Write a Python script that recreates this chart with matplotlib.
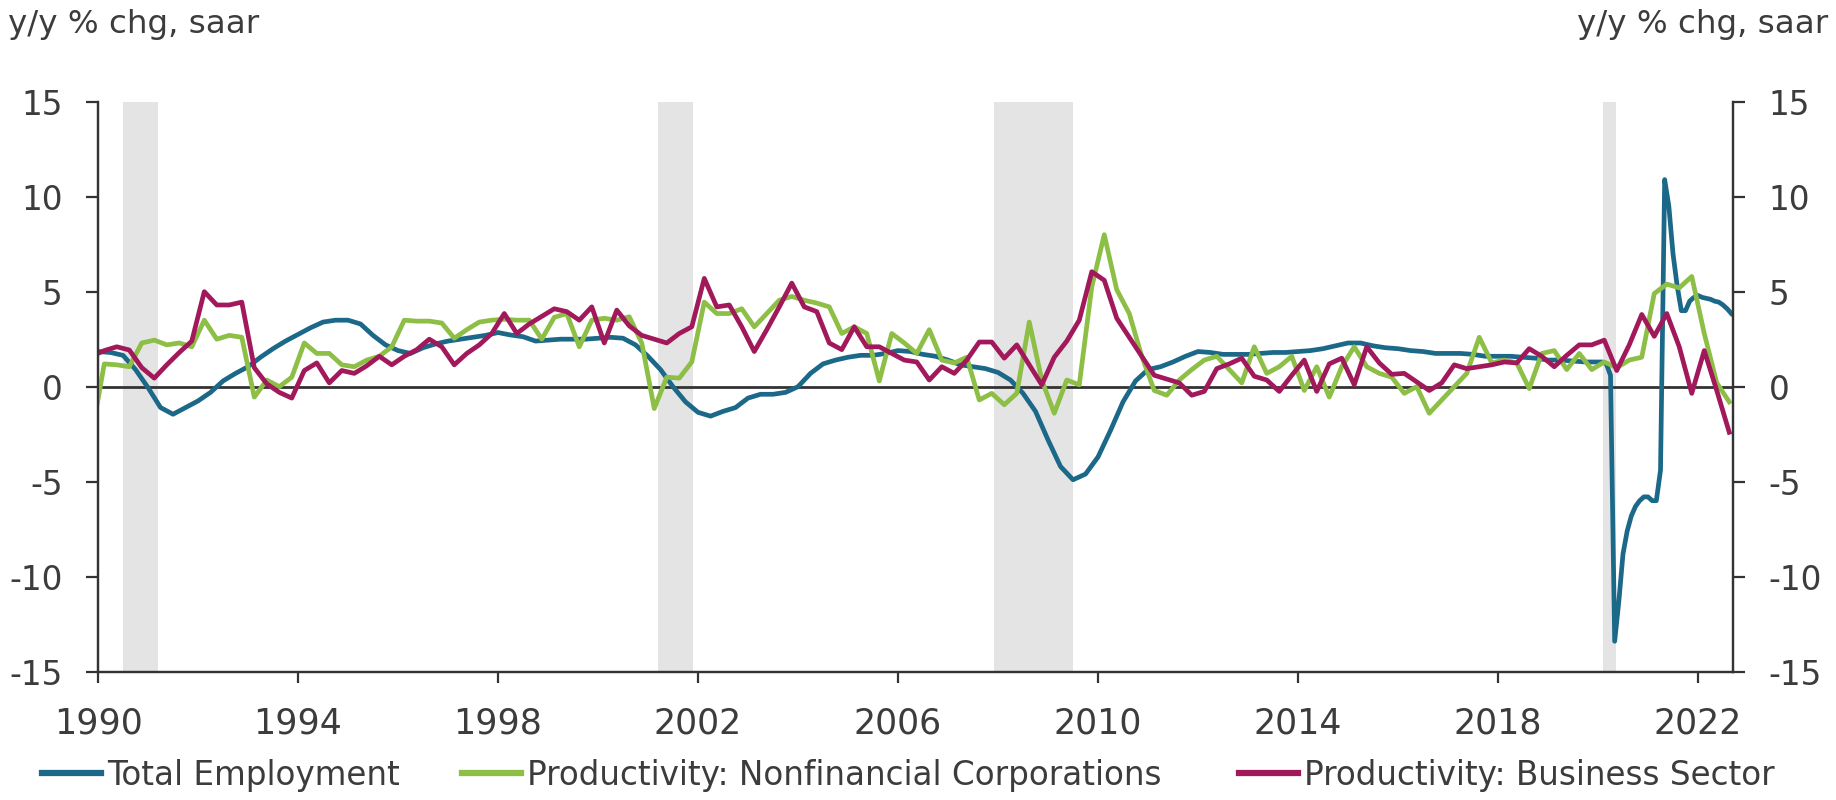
import numpy as np
import matplotlib.pyplot as plt
from matplotlib.lines import Line2D

plt.rcParams['axes.unicode_minus'] = False

# --- data ---
# productivity: quarterly y/y, Q4 1989 .. Q3 2022, plotted mid-quarter
prod_dates = 1989.875 + 0.25 * np.arange(132)

nonfin_prod = [
    -2.5, 1.2, 1.15, 1.05, 2.3, 2.45, 2.2, 2.3, 2.1,          # 1989Q4-1991Q4
    3.5, 2.5, 2.7, 2.6, -0.55, 0.35, 0.0, 0.5,                 # 1992-1993
    2.3, 1.75, 1.75, 1.15, 1.05, 1.4, 1.6, 2.1,                # 1994-1995
    3.5, 3.45, 3.45, 3.35, 2.55, 3.0, 3.4, 3.5,                # 1996-1997
    3.55, 3.5, 3.5, 2.5, 3.65, 3.85, 2.1, 3.5,                 # 1998-1999
    3.6, 3.5, 3.68, 2.3, -1.15, 0.5, 0.45, 1.3,                # 2000-2001
    4.45, 3.85, 3.85, 4.1, 3.15, 3.85, 4.55, 4.75,             # 2002-2003
    4.55, 4.4, 4.2, 2.8, 3.15, 2.8, 0.3, 2.8,                  # 2004-2005
    2.3, 1.75, 3.0, 1.4, 1.25, 1.55, -0.7, -0.35,              # 2006-2007
    -0.95, -0.35, 3.4, 0.35, -1.4, 0.35, 0.1, 5.25,            # 2008-2009
    8.0, 5.1, 3.85, 1.6, -0.2, -0.45, 0.35, 0.9,               # 2010-2011
    1.4, 1.6, 0.9, 0.2, 2.1, 0.7, 1.05, 1.6,                   # 2012-2013
    -0.2, 1.05, -0.55, 1.05, 2.1, 1.05, 0.7, 0.5,              # 2014-2015
    -0.35, 0.0, -1.4, -0.7, 0.0, 0.7, 2.6, 1.25,               # 2016-2017
    1.4, 1.25, -0.1, 1.75, 1.9, 0.9, 1.75, 0.9,                # 2018-2019
    1.3, 1.0, 1.4, 1.55, 4.9, 5.4, 5.2, 5.8,                   # 2020-2021
    2.8, 0.2, -0.8,                                            # 2022
]

business_prod = [
    1.6, 1.9, 2.1, 1.93, 1.0, 0.45, 1.15, 1.8, 2.4,            # 1989Q4-1991Q4
    5.0, 4.3, 4.3, 4.45, 1.0, 0.15, -0.3, -0.6,                # 1992-1993
    0.85, 1.25, 0.2, 0.85, 0.7, 1.1, 1.6, 1.15,                # 1994-1995
    1.6, 1.95, 2.5, 2.1, 1.15, 1.75, 2.2, 2.8,                 # 1996-1997
    3.85, 2.8, 3.3, 3.7, 4.1, 3.95, 3.5, 4.2,                  # 1998-1999
    2.3, 4.03, 3.2, 2.7, 2.5, 2.3, 2.8, 3.15,                  # 2000-2001
    5.7, 4.2, 4.3, 3.15, 1.85, 3.0, 4.2, 5.45,                 # 2002-2003
    4.2, 3.95, 2.3, 1.95, 3.15, 2.1, 2.1, 1.75,                # 2004-2005
    1.4, 1.3, 0.35, 1.05, 0.7, 1.4, 2.35, 2.35,                # 2006-2007
    1.5, 2.2, 1.15, 0.1, 1.55, 2.4, 3.5, 6.05,                 # 2008-2009
    5.6, 3.6, 2.6, 1.6, 0.6, 0.4, 0.2, -0.45,                  # 2010-2011
    -0.25, 0.95, 1.2, 1.5, 0.55, 0.35, -0.25, 0.6,             # 2012-2013
    1.4, -0.25, 1.2, 1.5, 0.1, 2.1, 1.25, 0.65,                # 2014-2015
    0.7, 0.25, -0.2, 0.2, 1.15, 0.95, 1.05, 1.15,              # 2016-2017
    1.3, 1.25, 2.0, 1.6, 1.05, 1.65, 2.2, 2.2,                 # 2018-2019
    2.45, 0.85, 2.2, 3.8, 2.65, 3.85, 2.1, -0.35,              # 2020-2021
    1.9, -0.2, -2.4,                                           # 2022
]

# total employment: quarterly 1990-2019, then monthly Jan 2020 - Aug 2022
emp_dates_q = 1990.0 + 0.25 * np.arange(120)
emp_q = [
    1.85, 1.8, 1.65, 0.9,  -0.05, -1.1, -1.45, -1.1,
    -0.75, -0.3, 0.3, 0.7,  1.05, 1.55, 2.0, 2.4,
    2.75, 3.1, 3.4, 3.5,  3.5, 3.3, 2.7, 2.2,
    1.9, 1.75, 2.05, 2.25,  2.4, 2.5, 2.6, 2.7,
    2.85, 2.72, 2.63, 2.4,  2.45, 2.5, 2.5, 2.5,
    2.55, 2.6, 2.55, 2.2,  1.6, 0.9, 0.0, -0.8,
    -1.35, -1.55, -1.3, -1.1,  -0.6, -0.4, -0.4, -0.3,
    0.0, 0.7, 1.2, 1.4,  1.55, 1.65, 1.65, 1.75,
    1.9, 1.85, 1.7, 1.6,  1.4, 1.15, 1.05, 0.95,
    0.75, 0.35, -0.35, -1.3,  -2.8, -4.2, -4.9, -4.6,
    -3.7, -2.3, -0.8, 0.3,  0.9, 1.05, 1.3, 1.6,
    1.85, 1.8, 1.7, 1.7,  1.7, 1.75, 1.8, 1.8,
    1.85, 1.9, 2.0, 2.15,  2.3, 2.3, 2.15, 2.05,
    2.0, 1.9, 1.85, 1.75,  1.75, 1.75, 1.7, 1.6,
    1.6, 1.6, 1.55, 1.5,  1.4, 1.4, 1.35, 1.3,
]
emp_dates_m = 2020 + np.arange(1, 33) / 12
emp_m = [
    1.3, 1.2, 0.6, -13.4, -11.3, -8.8, -7.6, -6.8, -6.3, -6.0, -5.8, -5.8,
    -6.0, -6.0, -4.4, 10.9, 9.5, 7.0, 5.3, 4.0, 4.0, 4.5, 4.7, 4.8,
    4.7, 4.65, 4.6, 4.5, 4.45, 4.3, 4.1, 3.85,
]

recessions = [(1990.5, 1991.2), (2001.2, 2001.9), (2007.92, 2009.5), (2020.1, 2020.35)]
year_ticks = list(range(1990, 2023, 4))
y_ticks = [-15, -10, -5, 0, 5, 10, 15]

series_names = ['Total Employment', 'Productivity: Nonfinancial Corporations',
                'Productivity: Business Sector']
colors = ['#1c6888', '#8dbe46', '#a1195b']

TXT = '#3c3c3c'

fig = plt.figure(figsize=(18.36, 8), dpi=100)
ax = fig.add_axes([0.0534, 0.1604, 0.8905, 0.7125])

for a, b in recessions:
    ax.axvspan(a, b, color='#e4e4e4', lw=0, zorder=0)

ax.axhline(0, color='#333333', lw=2, zorder=1)

emp_x = np.concatenate([emp_dates_q, emp_dates_m])
emp_y = np.concatenate([emp_q, emp_m])
ax.plot(emp_x, emp_y, color=colors[0], lw=3.4, zorder=3)
ax.plot(prod_dates, nonfin_prod, color=colors[1], lw=3.4, zorder=3)
ax.plot(prod_dates, business_prod, color=colors[2], lw=3.4, zorder=4)

ax.set_xlim(1990, 2022.7)
ax.set_ylim(-15, 15)
ax.set_xticks(year_ticks)
ax.set_yticks(y_ticks)

ax2 = ax.twinx()
ax2.set_ylim(-15, 15)
ax2.set_yticks(y_ticks)

for a in (ax, ax2):
    a.spines['top'].set_visible(False)
    for s in ('left', 'right', 'bottom'):
        a.spines[s].set_color('#333333')
        a.spines[s].set_linewidth(1.6)

ax.tick_params(axis='y', direction='out', length=8.5, width=1.6, color='#333333',
               pad=17, labelsize=23.5, labelcolor=TXT)
ax.tick_params(axis='x', direction='out', length=8, width=1.6, color='#333333',
               pad=17, labelsize=25, labelcolor=TXT)
ax2.tick_params(axis='y', direction='out', length=8.5, width=1.6, color='#333333',
                pad=17, labelsize=23.5, labelcolor=TXT)

fig.text(0.0044, 0.959, 'y/y % chg, saar', ha='left', va='baseline',
         fontsize=23.4, color=TXT)
fig.text(0.9956, 0.959, 'y/y % chg, saar', ha='right', va='baseline',
         fontsize=23.4, color=TXT)

# legend: three entries placed along the bottom
legend_x = [42 / 1836, 462 / 1836, 1239 / 1836]
for name, c, x0 in zip(series_names, colors, legend_x):
    h = Line2D([], [], color=c, lw=4.5)
    fig.legend(handles=[h], labels=[name], loc='center left',
               bbox_to_anchor=(x0, 0.031), frameon=False, fontsize=23.5,
               handlelength=1.8, handletextpad=0.2, borderpad=0,
               borderaxespad=0, labelcolor=TXT)

fig.savefig('out.png', dpi=100)
